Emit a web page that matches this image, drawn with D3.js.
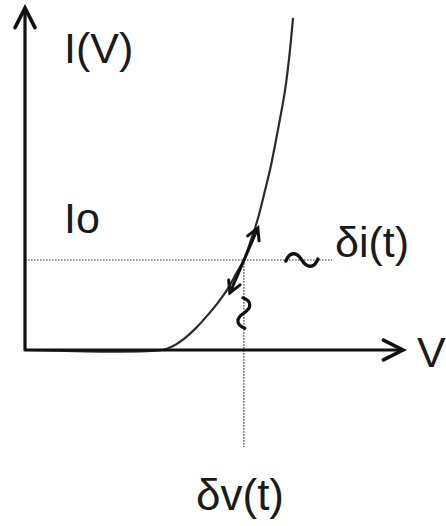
<!DOCTYPE html>
<html>
<head>
<meta charset="utf-8">
<script src="https://cdn.jsdelivr.net/npm/d3@7"></script>
<style>
  html, body { margin: 0; padding: 0; background: #fff; }
  svg { display: block; }
  text { font-family: "Liberation Sans", Arial, sans-serif; fill: #1a1a1a; }
</style>
</head>
<body>
<svg id="chart" width="446" height="526"></svg>
<script>
// Diode-style I(V) characteristic (arbitrary units)
const curveV = [0, 3.62, 3.92, 4.23, 4.52, 4.81, 5.08, 5.34, 5.58, 5.79, 5.98, 6.15, 6.32, 6.51, 6.69, 6.88, 7.01, 7.09];
const curveI = [0, 0, 0.12, 0.35, 0.64, 0.99, 1.35, 1.75, 2.22, 2.63, 3.22, 3.80, 4.53, 5.41, 6.43, 7.60, 8.77, 9.71];

// Operating point (bias voltage / current Io)
const opV = 5.79;
const opI = 2.63;

// Small-signal swing shown by the double arrow along the tangent
const swingV = [5.42, 6.16];
const swingI = [1.67, 3.57];

// Axis extents
const vMax = 10;
const iMax = 10;

const labels = { yAxis: "I(V)", xAxis: "V", bias: "Io", di: "δi(t)", dv: "δv(t)" };

const svg = d3.select("#chart");

const x = d3.scaleLinear().domain([0, vMax]).range([25, 403]);
const y = d3.scaleLinear().domain([0, iMax]).range([350, 8]);

const ink = "#111";

// Dotted guide lines through the operating point
svg.append("line")
  .attr("x1", x(0)).attr("x2", x(opV) + 88)
  .attr("y1", y(opI)).attr("y2", y(opI))
  .attr("stroke", "#777").attr("stroke-width", 1.6)
  .attr("stroke-dasharray", "1.6,1.4");
svg.append("line")
  .attr("x1", x(opV)).attr("x2", x(opV))
  .attr("y1", y(opI)).attr("y2", y(0) + 97)
  .attr("stroke", "#777").attr("stroke-width", 1.6)
  .attr("stroke-dasharray", "1.6,1.4");

// I(V) curve
const pts = curveV.map((v, i) => [v, curveI[i]]);
svg.append("path")
  .datum(pts)
  .attr("d", d3.line().x(d => x(d[0])).y(d => y(d[1])).curve(d3.curveCatmullRom.alpha(0.5)))
  .attr("fill", "none").attr("stroke", "#2a2a2a").attr("stroke-width", 2.2);

// Axes with open arrow heads
function chevron(tipX, tipY, angle, len, spread) {
  const a1 = angle + Math.PI - spread, a2 = angle + Math.PI + spread;
  return `M${tipX + len * Math.cos(a1)},${tipY + len * Math.sin(a1)}L${tipX},${tipY}L${tipX + len * Math.cos(a2)},${tipY + len * Math.sin(a2)}`;
}
const axisPath = `M${x(0)},${y(iMax)}L${x(0)},${y(0)}L${x(vMax)},${y(0)}`;
svg.append("path").attr("d", axisPath)
  .attr("fill", "none").attr("stroke", ink).attr("stroke-width", 3.2)
  .attr("stroke-linejoin", "round");
svg.append("path").attr("d", chevron(x(0), y(iMax), -Math.PI / 2, 22, 0.47))
  .attr("fill", "none").attr("stroke", ink).attr("stroke-width", 3.6)
  .attr("stroke-linecap", "round").attr("stroke-linejoin", "miter");
svg.append("path").attr("d", chevron(x(vMax), y(0), 0, 22, 0.47))
  .attr("fill", "none").attr("stroke", ink).attr("stroke-width", 3.6)
  .attr("stroke-linecap", "round").attr("stroke-linejoin", "miter");

// Double-headed arrow along the tangent at the operating point
const ax0 = x(swingV[0]), ay0 = y(swingI[0]), ax1 = x(swingV[1]), ay1 = y(swingI[1]);
const ang = Math.atan2(ay1 - ay0, ax1 - ax0);
svg.append("line")
  .attr("x1", ax0).attr("y1", ay0).attr("x2", ax1).attr("y2", ay1)
  .attr("stroke", ink).attr("stroke-width", 3);
svg.append("path").attr("d", chevron(ax1, ay1, ang, 13, 0.5))
  .attr("fill", "none").attr("stroke", ink).attr("stroke-width", 3)
  .attr("stroke-linecap", "round");
svg.append("path").attr("d", chevron(ax0, ay0, ang + Math.PI, 13, 0.5))
  .attr("fill", "none").attr("stroke", ink).attr("stroke-width", 3)
  .attr("stroke-linecap", "round");

// "~" signal marks for δi(t) and δv(t)
const tilde = "M-16,1C-12,-9 -5,-8 0,0C5,8 12,9 16,-1";
svg.append("path").attr("d", tilde)
  .attr("transform", `translate(${x(opV) + 58},${y(opI)})`)
  .attr("fill", "none").attr("stroke", ink).attr("stroke-width", 3.4)
  .attr("stroke-linecap", "round");
svg.append("path").attr("d", tilde)
  .attr("transform", `translate(${x(opV)},${y(opI) + 53}) rotate(90) scale(0.95)`)
  .attr("fill", "none").attr("stroke", ink).attr("stroke-width", 3.4)
  .attr("stroke-linecap", "round");

// Labels
const fs = 43;
svg.append("text").attr("x", 64).attr("y", 63).attr("font-size", fs).text(labels.yAxis);
svg.append("text").attr("x", 64).attr("y", 233).attr("font-size", fs).text(labels.bias);
svg.append("text").attr("x", 335).attr("y", 257).attr("font-size", fs).text(labels.di);
svg.append("text").attr("x", 417).attr("y", 367).attr("font-size", fs).text(labels.xAxis);
svg.append("text").attr("x", 196).attr("y", 510).attr("font-size", 44).text(labels.dv);
</script>
</body>
</html>
